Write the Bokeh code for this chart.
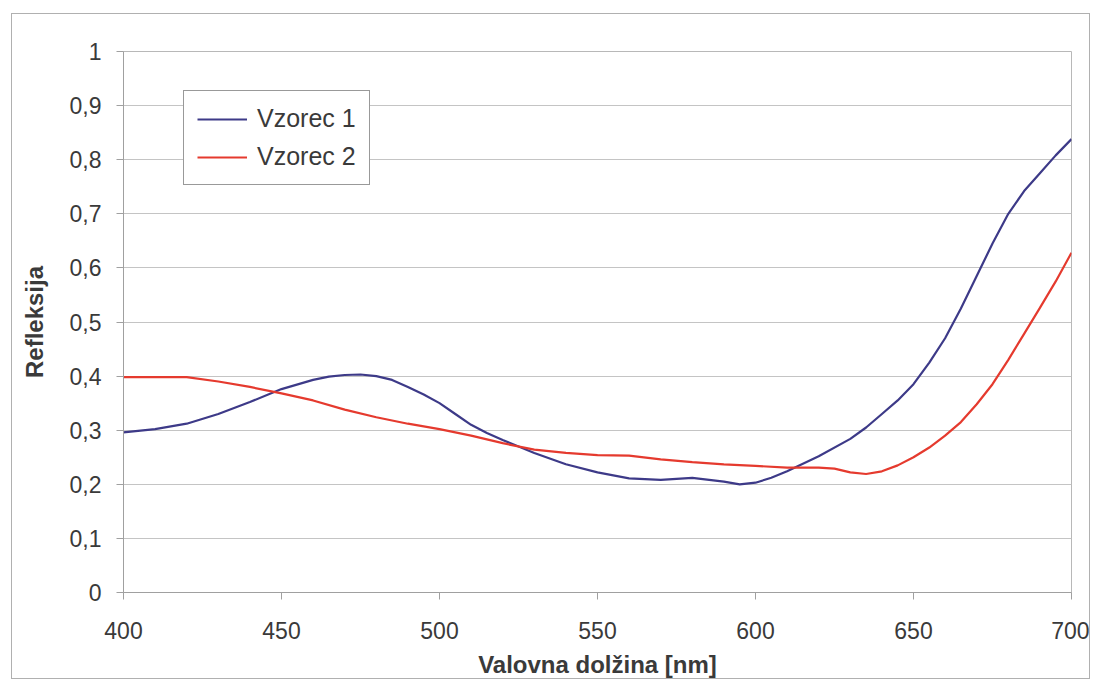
from bokeh.plotting import figure
from bokeh.models import Legend, LegendItem, FixedTicker, CustomJSTickFormatter, Range1d
from bokeh.embed import file_html
from bokeh.resources import INLINE

# wavelengths [nm] and reflectance values
wl_1 = [400, 410, 420, 430, 440, 450, 460, 465, 470, 475, 480, 485, 490, 495, 500, 505,
        510, 515, 520, 530, 540, 550, 560, 570, 580, 590, 595, 600, 605, 610, 620, 630,
        635, 640, 645, 650, 655, 660, 665, 670, 675, 680, 685, 690, 695, 700]
vzorec_1 = [0.296, 0.302, 0.312, 0.330, 0.352, 0.376, 0.393, 0.399, 0.402, 0.403, 0.400,
            0.393, 0.380, 0.366, 0.350, 0.330, 0.310, 0.295, 0.282, 0.258, 0.237, 0.222,
            0.211, 0.208, 0.212, 0.205, 0.200, 0.203, 0.212, 0.224, 0.252, 0.284, 0.305,
            0.330, 0.355, 0.385, 0.425, 0.470, 0.525, 0.585, 0.645, 0.700, 0.742, 0.775,
            0.808, 0.838]

wl_2 = [400, 410, 420, 430, 440, 450, 460, 470, 480, 490, 500, 510, 520, 530, 540,
        550, 560, 570, 580, 590, 600, 610, 620, 625, 630, 635, 640, 645, 650, 655, 660,
        665, 670, 675, 680, 685, 690, 695, 700]
vzorec_2 = [0.398, 0.398, 0.398, 0.390, 0.380, 0.368, 0.355, 0.338, 0.324, 0.312, 0.302,
            0.290, 0.276, 0.264, 0.258, 0.254, 0.253, 0.246, 0.241, 0.237, 0.234, 0.231,
            0.231, 0.229, 0.222, 0.219, 0.224, 0.235, 0.250, 0.268, 0.290, 0.315, 0.348,
            0.385, 0.430, 0.478, 0.526, 0.575, 0.628]

series_names = ["Vzorec 1", "Vzorec 2"]
x_ticks = [400, 450, 500, 550, 600, 650, 700]
y_ticks = [0, 0.1, 0.2, 0.3, 0.4, 0.5, 0.6, 0.7, 0.8, 0.9, 1.0]
x_title = "Valovna dolžina [nm]"
y_title = "Refleksija"

FONT = "Liberation Sans"
TEXT = "#3a3a3a"

p = figure(width=1079, height=666, output_backend="svg", toolbar_location=None,
           x_range=Range1d(400, 700), y_range=Range1d(0, 1),
           min_border_left=111, min_border_right=20, min_border_top=37, min_border_bottom=80)
p.styles = {"border": "1px solid #b0b0b0", "margin-left": "11px", "margin-top": "13px"}
p.background_fill_color = "white"
p.border_fill_color = "white"
p.outline_line_color = "#b8b8b8"

l1 = p.line(wl_1, vzorec_1, line_color="#3d3a88", line_width=2.2)
l2 = p.line(wl_2, vzorec_2, line_color="#e53a2e", line_width=2.2)

p.xaxis.ticker = FixedTicker(ticks=x_ticks)
p.yaxis.ticker = FixedTicker(ticks=y_ticks)
p.yaxis.formatter = CustomJSTickFormatter(
    code="return (Math.round(tick*10)/10).toString().replace('.', ',');")

for ax in (p.xaxis, p.yaxis):
    ax.axis_line_color = "#a0a0a0"
    ax.major_tick_line_color = "#a0a0a0"
    ax.major_tick_out = 7
    ax.major_tick_in = 0
    ax.minor_tick_line_color = None
    ax.major_label_text_font = FONT
    ax.major_label_text_font_size = "23px"
    ax.major_label_text_color = TEXT
    ax.axis_label_text_font = FONT
    ax.axis_label_text_font_style = "bold"
    ax.axis_label_text_font_size = "24px"
    ax.axis_label_text_color = TEXT

p.xaxis.axis_label = x_title
p.yaxis.axis_label = y_title
p.xaxis.major_label_standoff = 22
p.yaxis.major_label_standoff = 15
p.xaxis.axis_label_standoff = 9
p.yaxis.axis_label_standoff = 19

p.xgrid.grid_line_color = None
p.ygrid.grid_line_color = "#c4c4c4"
p.ygrid.grid_line_width = 1.2

legend = Legend(items=[LegendItem(label=series_names[0], renderers=[l1]),
                       LegendItem(label=series_names[1], renderers=[l2])],
                location=(60, 407), orientation="vertical")
legend.border_line_color = "#333333"
legend.border_line_width = 1.2
legend.background_fill_color = "white"
legend.background_fill_alpha = 1.0
legend.label_text_font = FONT
legend.label_text_font_size = "25px"
legend.label_text_color = TEXT
legend.glyph_width = 50
legend.glyph_height = 24
legend.label_height = 24
legend.label_standoff = 10
legend.spacing = 9
legend.padding = 13
legend.margin = 0
p.add_layout(legend, "center")

open("out.html", "w").write(file_html(p, INLINE))
